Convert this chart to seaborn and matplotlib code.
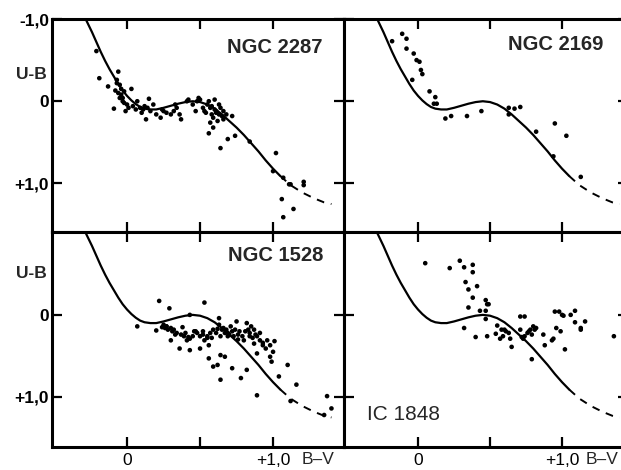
import matplotlib
matplotlib.use("Agg")
import matplotlib.pyplot as plt
import seaborn as sns
import pandas as pd
from matplotlib import transforms

# ---------------- data ----------------
# intrinsic two-colour relation (solid part and dashed extension)
curve_bv = [-0.30, -0.27, -0.24, -0.21, -0.18, -0.15, -0.12, -0.09, -0.06, -0.03, 0.00,
            0.03, 0.06, 0.09, 0.12, 0.16, 0.20, 0.25, 0.30, 0.35, 0.40, 0.45, 0.50, 0.55,
            0.60, 0.65, 0.70, 0.75, 0.80, 0.85, 0.90, 0.95, 1.00, 1.05]
curve_ub = [-1.06, -0.95, -0.84, -0.72, -0.60, -0.49, -0.39, -0.30, -0.21, -0.13, -0.065,
            -0.01, 0.035, 0.07, 0.09, 0.10, 0.10, 0.08, 0.055, 0.03, 0.01, 0.0, 0.01, 0.04,
            0.09, 0.16, 0.24, 0.32, 0.41, 0.51, 0.61, 0.72, 0.82, 0.91]
dash_bv = [1.05, 1.12, 1.20, 1.28, 1.35, 1.40]
dash_ub = [0.91, 1.02, 1.11, 1.18, 1.23, 1.25]

# NGC 2287
ngc2287_bv = [-0.21, -0.19, -0.13, -0.09, -0.06, -0.07, -0.07, -0.05, -0.08, -0.06, -0.04, -0.04,
              -0.03, -0.05, -0.02, -0.01, 0.03, -0.03, 0.00, 0.07, 0.09, 0.11, 0.14, 0.15, 0.16,
              0.13, 0.18, 0.20, 0.23, 0.25, 0.27, 0.30, 0.32, 0.34, 0.36, 0.37, 0.41, 0.42, 0.45,
              0.47, 0.48, 0.49, 0.50, 0.52, 0.53, 0.55, 0.56, 0.57, 0.58, 0.59, 0.60, 0.61, 0.63,
              0.64, 0.65, 0.66, 0.68, 0.72, 0.59, 0.56, 0.64, 0.69, 0.74, 0.84, 1.02, 1.00, 1.07,
              1.11, 1.12, 1.21, 1.21, 1.06, 1.14, 1.07, 0.04, 0.10, 0.60, 0.62, 0.57, 0.24, 0.33,
              -0.02, 0.01, 0.06, 0.12, 0.54, 0.58, 0.61, 0.63, 0.66]
ngc2287_ub = [-0.61, -0.28, -0.18, 0.09, -0.36, -0.26, -0.22, -0.20, -0.13, -0.10, -0.15, -0.08,
              -0.04, -0.04, 0.02, 0.12, -0.15, 0.00, 0.04, 0.00, 0.08, 0.10, 0.08, -0.03, 0.12,
              0.22, 0.04, 0.16, 0.20, 0.12, 0.14, 0.16, 0.12, 0.08, 0.16, 0.22, 0.00, -0.02, 0.04,
              0.12, 0.00, -0.04, -0.02, 0.08, 0.12, 0.04, 0.00, 0.08, 0.16, 0.20, -0.02, 0.12, 0.16,
              0.08, 0.18, 0.12, 0.16, 0.18, 0.32, 0.39, 0.57, 0.46, 0.42, 0.49, 0.63, 0.85, 0.93,
              1.01, 1.01, 0.98, 1.02, 1.19, 1.31, 1.41, 0.06, 0.14, 0.10, 0.24, 0.26, 0.10, 0.04,
              -0.12, 0.08, 0.10, 0.06, 0.14, 0.06, 0.14, 0.04, 0.22]

# NGC 2169
ngc2169_bv = [-0.18, -0.11, -0.08, -0.08, -0.03, -0.01, 0.01, 0.02, 0.03, -0.04, 0.08, 0.12,
              0.11, 0.13, 0.19, 0.23, 0.34, 0.44, 0.63, 0.63, 0.67, 0.71, 0.82, 0.95, 1.03,
              0.94, 1.13]
ngc2169_ub = [-0.73, -0.82, -0.76, -0.64, -0.58, -0.50, -0.48, -0.38, -0.33, -0.26, -0.12, -0.05,
              0.03, 0.03, 0.21, 0.18, 0.18, 0.12, 0.08, 0.16, 0.09, 0.07, 0.37, 0.27, 0.42,
              0.67, 0.92]

# NGC 1528
ngc1528_bv = [0.22, 0.29, 0.53, 0.43, 0.07, 0.20, 0.25, 0.26, 0.27, 0.28, 0.30, 0.31, 0.32,
              0.30, 0.36, 0.38, 0.39, 0.40, 0.41, 0.43, 0.45, 0.48, 0.50, 0.52, 0.53, 0.55,
              0.56, 0.57, 0.59, 0.61, 0.63, 0.63, 0.64, 0.65, 0.66, 0.68, 0.69, 0.71, 0.72,
              0.73, 0.74, 0.75, 0.76, 0.77, 0.80, 0.82, 0.83, 0.84, 0.85, 0.87, 0.87, 0.88,
              0.89, 0.91, 0.91, 0.93, 0.95, 0.96, 0.98, 0.98, 0.99, 1.01, 1.00, 0.43, 0.50,
              0.56, 0.59, 0.62, 0.64, 0.64, 0.67, 0.72, 0.78, 0.82, 0.89, 1.04, 1.10, 1.16,
              0.89, 1.12, 1.35, 1.37, 1.40, 0.24, 0.27, 0.34, 0.37, 0.46, 0.52, 0.58, 0.62,
              0.67, 0.70, 0.79, 0.81, 0.86, 0.93, 0.33, 0.42, 0.47, 0.55, 0.69, 0.76, 0.84]
ngc1528_ub = [-0.17, -0.08, -0.15, 0.00, 0.14, 0.19, 0.12, 0.16, 0.14, 0.18, 0.16, 0.20, 0.18,
              0.31, 0.41, 0.15, 0.26, 0.22, 0.31, 0.29, 0.26, 0.22, 0.26, 0.20, 0.31, 0.26,
              0.37, 0.22, 0.18, 0.22, 0.04, 0.12, 0.26, 0.18, 0.16, 0.18, 0.22, 0.14, 0.20,
              0.26, 0.18, 0.08, 0.24, 0.20, 0.31, 0.10, 0.18, 0.26, 0.14, 0.18, 0.35, 0.24,
              0.26, 0.31, 0.22, 0.37, 0.41, 0.31, 0.37, 0.51, 0.57, 0.32, 0.45, 0.43, 0.41,
              0.53, 0.63, 0.61, 0.79, 0.49, 0.51, 0.65, 0.77, 0.67, 0.47, 0.75, 0.61, 0.85,
              0.98, 1.05, 1.22, 0.99, 1.14, 0.15, 0.14, 0.22, 0.24, 0.20, 0.24, 0.28, 0.17,
              0.22, 0.24, 0.26, 0.20, 0.28, 0.34, 0.24, 0.27, 0.20, 0.28, 0.26, 0.30, 0.22]

# IC 1848
ic1848_bv = [0.05, 0.22, 0.29, 0.32, 0.38, 0.38, 0.33, 0.35, 0.41, 0.38, 0.35, 0.47, 0.48,
             0.49, 0.43, 0.47, 0.47, 0.32, 0.40, 0.48, 0.54, 0.55, 0.57, 0.58, 0.59, 0.60,
             0.61, 0.63, 0.64, 0.65, 0.71, 0.74, 0.71, 0.72, 0.73, 0.74, 0.76, 0.77, 0.78,
             0.79, 0.80, 0.81, 0.82, 0.87, 0.88, 0.93, 0.94, 0.95, 0.96, 0.98, 0.99, 1.00,
             1.01, 1.02, 1.06, 1.09, 1.09, 1.13, 1.13, 1.16, 0.79, 1.36]
ic1848_ub = [-0.63, -0.57, -0.66, -0.58, -0.61, -0.52, -0.40, -0.31, -0.35, -0.21, -0.09, -0.18,
             -0.13, -0.13, -0.05, -0.05, 0.05, 0.16, 0.27, 0.26, 0.23, 0.13, 0.29, 0.18, 0.26,
             0.18, 0.20, 0.22, 0.29, 0.39, 0.02, 0.02, 0.18, 0.27, 0.29, 0.26, 0.22, 0.20,
             0.18, 0.24, 0.14, 0.18, 0.16, 0.24, 0.37, 0.31, 0.29, -0.04, 0.16, -0.04, 0.20,
             0.00, 0.01, 0.42, 0.00, -0.05, 0.09, 0.16, 0.18, 0.08, 0.54, 0.26]

cluster_names = ["NGC 2287", "NGC 2169", "NGC 1528", "IC 1848"]
x_ticks = [0.0, 0.5, 1.0]
x_ticklabels = ["0", "", "+1,0"]
y_ticks_top = [-1.0, 0.0, 1.0]
y_ticklabels_top = ["-1,0", "0", "+1,0"]
y_ticks_bot = [0.0, 1.0]
y_ticklabels_bot = ["0", "+1,0"]

# ---------------- figure ----------------
sns.set_style("ticks")
plt.rcParams['font.family'] = ['Liberation Sans', 'DejaVu Sans']

W, H = 621, 470
fig = plt.figure(figsize=(W / 100, H / 100), dpi=100)
fig.patch.set_facecolor("white")


def add(px_left, px_top, px_w, px_h):
    return fig.add_axes([px_left / W, 1 - (px_top + px_h) / H, px_w / W, px_h / H])


ax_tl = add(52, 19, 292, 213)
ax_tr = add(344, 19, 284, 213)
ax_bl = add(52, 232, 292, 215)
ax_br = add(344, 232, 284, 215)

panels = [
    (ax_tl, ngc2287_bv, ngc2287_ub, True, True),
    (ax_tr, ngc2169_bv, ngc2169_ub, True, False),
    (ax_bl, ngc1528_bv, ngc1528_ub, False, True),
    (ax_br, ic1848_bv, ic1848_ub, False, False),
]

for ax, bv, ub, is_top, is_left in panels:
    df = pd.DataFrame({"bv": bv, "ub": ub})
    sns.lineplot(x=curve_bv, y=curve_ub, sort=False, estimator=None, color="black",
                 lw=1.6, ax=ax)
    sns.lineplot(x=dash_bv, y=dash_ub, sort=False, estimator=None, color="black",
                 lw=1.4, ax=ax, linestyle=(0, (4, 3.5)))
    sns.scatterplot(data=df, x="bv", y="ub", color="black", s=11, edgecolor="none",
                    linewidth=0, ax=ax, legend=False)
    if is_left:
        ax.set_xlim(-0.514, 1.486)
    else:
        ax.set_xlim(-0.514, 1.458)
    if is_top:
        ax.set_ylim(1.59, -1.0)
    else:
        ax.set_ylim(1.61, -1.01)
    ax.set_xlabel("")
    ax.set_ylabel("")
    for sp in ax.spines.values():
        sp.set_linewidth(2.2)
        sp.set_color("black")
    ax.tick_params(direction="in", length=7, width=1.6, top=True, right=True,
                   bottom=True, left=True, colors="black")
    ax.set_xticks(x_ticks)
    if is_top:
        ax.set_xticklabels([])
        ax.set_yticks(y_ticks_top)
        if is_left:
            ax.set_yticklabels(y_ticklabels_top)
        else:
            ax.set_yticklabels([])
    else:
        ax.set_xticklabels(x_ticklabels, fontsize=12.5)
        ax.tick_params(axis="x", pad=4)
        ax.set_yticks(y_ticks_bot)
        if is_left:
            ax.set_yticklabels(y_ticklabels_bot)
        else:
            ax.set_yticklabels([])
        tr = transforms.blended_transform_factory(ax.transData, ax.transAxes)
        ax.text(1.31 if is_left else 1.275, -0.058, "B–V", transform=tr,
                ha="center", va="center", fontsize=12.5)
    if is_left:
        ax.tick_params(axis="y", pad=2, labelsize=12.5)
        for lab in ax.get_yticklabels():
            lab.set_fontweight("bold")
        trl = transforms.blended_transform_factory(ax.transAxes, ax.transData)
        ax.text(-0.072, -0.33 if is_top else -0.51, "U-B", transform=trl,
                ha="center", va="center", fontsize=12.5, fontweight="bold")

ax_tl.text(0.925, 0.864, cluster_names[0], transform=ax_tl.transAxes, ha="right",
           va="center", fontsize=14.5, fontweight="bold")
ax_tr.text(0.912, 0.878, cluster_names[1], transform=ax_tr.transAxes, ha="right",
           va="center", fontsize=14.5, fontweight="bold")
ax_bl.text(0.928, 0.893, cluster_names[2], transform=ax_bl.transAxes, ha="right",
           va="center", fontsize=14.5, fontweight="bold")
ax_br.text(0.081, 0.149, cluster_names[3], transform=ax_br.transAxes, ha="left",
           va="center", fontsize=15)

fig.savefig("out.png", dpi=100, facecolor="white")
